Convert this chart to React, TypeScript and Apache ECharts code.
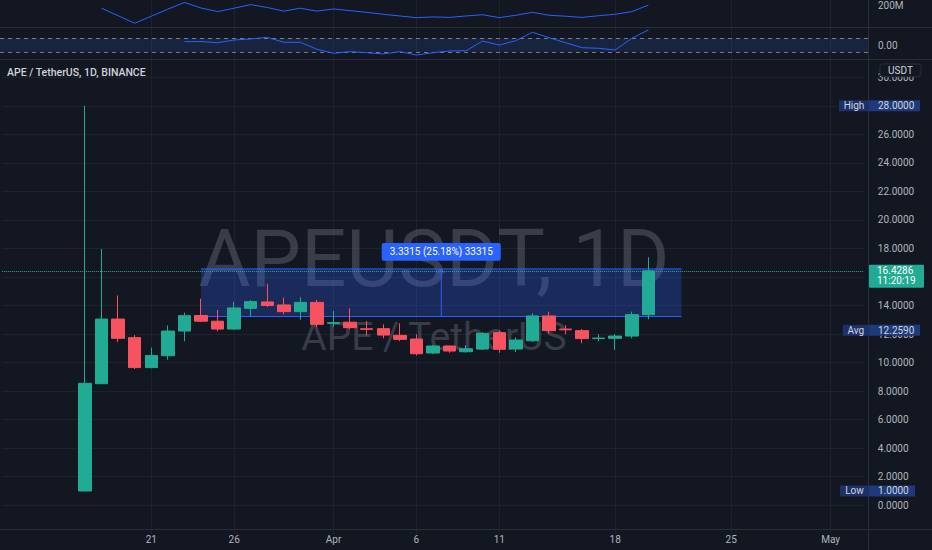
import React, { useEffect, useRef } from "react";
import * as echarts from "echarts";

const FONT = "Roboto, 'Noto Sans', sans-serif";
const BG = "#131722";
const UP = "#22ab94";
const DOWN = "#f7525f";
const BLUE = "#2962ff";
const GRID_C = "#1e222d";
const SEP_C = "#2a2e39";
const TEXT = "#b2b5be";

// axis categories (daily)
const AXIS_START = "2022-03-12";
const AXIS_END = "2022-05-03";
function dayList(start: string, end: string): string[] {
  const out: string[] = [];
  let t = Date.parse(start + "T00:00:00Z");
  const e = Date.parse(end + "T00:00:00Z");
  while (t <= e) {
    out.push(new Date(t).toISOString().slice(0, 10));
    t += 86400000;
  }
  return out;
}
const DATES = dayList(AXIS_START, AXIS_END);

const X_LABELS: Record<string, string> = {
  "2022-03-21": "21",
  "2022-03-26": "26",
  "2022-04-01": "Apr",
  "2022-04-06": "6",
  "2022-04-11": "11",
  "2022-04-18": "18",
  "2022-04-25": "25",
  "2022-05-01": "May",
};

// APE / USDT daily candles
const CANDLE_DATES = dayList("2022-03-17", "2022-04-20");
const OPEN = [1.0, 8.52, 13.05, 11.75, 9.65, 10.48, 12.21, 13.3, 12.9, 12.35, 13.8, 14.25, 14.04, 13.57, 14.22,
  12.75, 12.83, 12.37, 12.38, 11.91, 11.65, 10.67, 11.16, 10.76, 10.95, 12.1, 10.95, 11.53, 13.27, 12.35, 12.24, 11.68, 11.7, 11.86, 13.36];
const CLOSE = [8.55, 13.05, 11.7, 9.65, 10.5, 12.21, 13.29, 12.9, 12.35, 13.83, 14.27, 14.0, 13.57, 14.22, 12.68,
  12.8, 12.45, 12.33, 11.93, 11.63, 10.62, 11.16, 10.81, 10.97, 12.05, 10.93, 11.58, 13.27, 12.24, 12.3, 11.68, 11.72, 11.86, 13.36, 16.4286];
const LOW = [1.0, 8.5, 11.45, 9.55, 9.6, 10.2, 11.5, 12.85, 12.2, 12.3, 13.2, 13.9, 13.38, 13.0, 12.5,
  12.5, 12.35, 11.9, 11.7, 11.5, 10.5, 10.6, 10.69, 10.7, 10.88, 10.69, 10.74, 11.45, 12.05, 12.0, 11.35, 11.5, 10.88, 11.7, 13.03];
const HIGH = [28.0, 17.96, 14.7, 11.93, 11.05, 12.6, 13.5, 14.48, 13.68, 14.25, 14.39, 15.53, 14.55, 14.58, 14.39,
  13.62, 13.8, 12.92, 12.68, 12.75, 11.98, 11.23, 11.2, 11.23, 12.14, 12.24, 11.77, 13.45, 13.57, 12.63, 12.35, 11.98, 12.0, 13.57, 17.38];

// top pane 1 (millions)
const VOL_DATES = dayList("2022-03-18", "2022-04-20");
const VOL_MA = [190, 159, 128, 157, 186, 214, 191, 176, 190, 205, 193, 178, 190, 178,
  187, 180, 173, 165, 158, 151, 154, 152, 158, 163, 151, 161, 173, 161, 157, 152, 159, 165, 176, 203];

// top pane 2 oscillator
const OSC_DATES = dayList("2022-03-23", "2022-04-20");
const OSC = [0.51, 0.54, 0.37, 0.76, 0.9, 1.14, 0.43, 0.43, -0.57,
  -1.14, -0.91, -1.06, -1.24, -0.91, -1.39, -1.06, -0.81, -0.77, 0.61, 0.04, 0.66, 1.86, 1.09, 0.37, -0.34, -0.43, -0.67, 1.0, 2.19];
const OSC_BAND = [-1, 1];

const PRICE_HIGH = 28.0;
const PRICE_AVG = 12.259;
const PRICE_LOW = 1.0;
const LAST = 16.4286;
const COUNTDOWN = "11:20:19";
const MEASURE_FROM = "2022-03-24";
const MEASURE_TO = "2022-04-22";
const MEASURE_LOW = 13.2305;
const MEASURE_HIGH = 16.562;
const MEASURE_LABEL = "3.3315 (25.18%) 33315";
const TITLE = "APE / TetherUS, 1D, BINANCE";
const WM1 = "APEUSDT, 1D";
const WM2 = "APE / TetherUS";

const showDate = (_i: number, v: string) => !!X_LABELS[v];

export default function App() {
  const ref = useRef<HTMLDivElement>(null);
  useEffect(() => {
    if (!ref.current) return;
    const chart = echarts.init(ref.current, null, { renderer: "svg" });
    const candleData = CANDLE_DATES.map((d, i) => [d, OPEN[i], CLOSE[i], LOW[i], HIGH[i]]);
    const volData = VOL_DATES.map((d, i) => [d, VOL_MA[i]]);
    const oscData = OSC_DATES.map((d, i) => [d, OSC[i]]);
    const gl = 2.15;
    const gr = 68.2;
    const xBase = (gi: number, labels: boolean) => ({
      type: "category",
      gridIndex: gi,
      data: DATES,
      boundaryGap: false,
      axisLine: { show: false },
      axisTick: { show: false },
      axisLabel: labels
        ? { show: true, interval: showDate, formatter: (v: string) => X_LABELS[v] || "", color: TEXT, fontSize: 10, fontFamily: FONT, margin: 1 }
        : { show: false },
      splitLine: { show: true, interval: showDate, lineStyle: { color: GRID_C, width: 1 } },
    });
    const option: any = {
      animation: false,
      backgroundColor: BG,
      grid: [
        { left: gl, right: gr, top: 48.7, height: 485.1 },
        { left: gl, right: gr, top: 0, height: 30 },
        { left: gl, right: gr, top: 28, height: 30 },
      ],
      xAxis: [xBase(0, true), xBase(1, false), xBase(2, false)],
      yAxis: [
        {
          type: "value", gridIndex: 0, position: "right", min: -2, max: 32, interval: 2,
          axisLine: { show: false }, axisTick: { show: false },
          axisLabel: {
            color: TEXT, fontSize: 10, fontFamily: FONT, margin: 14, showMinLabel: false, showMaxLabel: false,
            formatter: (v: number) => (v < 0 || v > 30 ? "" : v.toFixed(4)),
          },
          splitLine: { show: true, showMinLine: false, showMaxLine: false, lineStyle: { color: GRID_C, width: 1 } },
        },
        { type: "value", gridIndex: 1, min: 100, max: 224, axisLabel: { show: false }, axisLine: { show: false }, axisTick: { show: false }, splitLine: { show: false } },
        { type: "value", gridIndex: 2, min: -1.814, max: 2.471, axisLabel: { show: false }, axisLine: { show: false }, axisTick: { show: false }, splitLine: { show: false } },
      ],
      series: [
        {
          type: "candlestick",
          xAxisIndex: 0, yAxisIndex: 0,
          data: candleData,
          encode: { x: 0, y: [1, 2, 3, 4] },
          barWidth: 13,
          itemStyle: { color: UP, color0: DOWN, borderColor: UP, borderColor0: DOWN, borderWidth: 1 },
          markLine: {
            silent: true, symbol: "none", label: { show: false },
            lineStyle: { color: UP, type: "dotted", width: 1 },
            data: [{ yAxis: LAST }],
          },
          z: 3,
        },
        {
          type: "line", xAxisIndex: 1, yAxisIndex: 1, data: volData, symbol: "none",
          lineStyle: { color: BLUE, width: 1 }, itemStyle: { color: BLUE }, z: 5,
        },
        {
          type: "line", xAxisIndex: 2, yAxisIndex: 2, data: oscData, symbol: "none",
          lineStyle: { color: BLUE, width: 1 }, itemStyle: { color: BLUE }, z: 5,
        },
      ],
    };
    chart.setOption(option);

    const P = (gi: number, d: string, v: number) =>
      chart.convertToPixel({ xAxisIndex: gi, yAxisIndex: gi } as any, [DATES.indexOf(d), v]) as number[];
    const yP = (v: number) => P(0, DATES[0], v)[1];

    const txt = (text: string, x: number, y: number, size: number, fill: string, align = "left", weight: any = "normal", z = 60) => ({
      type: "text", z, silent: true,
      style: { text, x, y, fill, font: `${weight} ${size}px ${FONT}`, textAlign: align, align, textVerticalAlign: "middle", verticalAlign: "middle" },
    });
    const rect = (x: number, y: number, w: number, h: number, fill: string, z = 55, r = 0, stroke?: string) => ({
      type: "rect", z, silent: true,
      shape: { x, y, width: w, height: h, r },
      style: stroke ? { fill, stroke, lineWidth: 1 } : { fill },
    });
    const line = (x1: number, y1: number, x2: number, y2: number, stroke: string, z = 55, dash?: number[]) => ({
      type: "line", z, silent: true,
      shape: { x1, y1, x2, y2 },
      style: dash ? { stroke, lineWidth: 1, lineDash: dash } : { stroke, lineWidth: 1 },
    });

    const tag = (name: string, value: number, nameX: number, valW: number) => {
      const y = yP(value);
      return [
        rect(nameX, y - 5.5, 869 - nameX, 11, "#1c3168"),
        rect(869, y - 5.5, valW, 11, "#1e3a7a"),
        txt(name, (nameX + 869) / 2, y, 10, "#d1d4dc", "center"),
        txt(value.toFixed(4), 878, y, 10, "#d1d4dc"),
      ];
    };

    const mx1 = P(0, MEASURE_FROM, MEASURE_HIGH)[0];
    const mx2 = P(0, MEASURE_TO, MEASURE_HIGH)[0];
    const myT = yP(MEASURE_HIGH);
    const myB = yP(MEASURE_LOW);
    const mxm = (mx1 + mx2) / 2;
    const yLast = yP(LAST);
    const yVol = P(1, DATES[0], 200)[1];
    const yOsc = P(2, DATES[0], 0)[1];
    const yBandTop = P(2, DATES[0], OSC_BAND[1])[1];
    const yBandBot = P(2, DATES[0], OSC_BAND[0])[1];

    const graphic: any[] = [
      // watermarks
      txt(WM1, 434, 259, 80, "rgba(120,124,138,0.38)", "center", "normal", 1),
      txt(WM2, 434, 337, 39, "rgba(120,124,138,0.38)", "center", "normal", 1),
      // oscillator band
      rect(0, yBandTop, 868, yBandBot - yBandTop, "rgba(56,110,220,0.15)", 1),
      line(0, Math.round(yBandTop) + 0.5, 868, Math.round(yBandTop) + 0.5, "#787b86", 2, [4, 4]),
      line(0, Math.round(yBandBot) + 0.5, 868, Math.round(yBandBot) + 0.5, "#787b86", 2, [4, 4]),
      // measurement
      rect(mx1, myT, mx2 - mx1, myB - myT, "rgba(41,98,255,0.26)", 2),
      line(mx1, myT, mx2, myT, BLUE, 2),
      line(mx1, myB, mx2, myB, BLUE, 2),
      line(mxm, myT, mxm, myB, BLUE, 2),
      { type: "polyline", z: 2, silent: true, shape: { points: [[mxm - 3, myT + 4], [mxm, myT], [mxm + 3, myT + 4]] }, style: { stroke: BLUE, fill: "none", lineWidth: 1 } },
      rect(mxm - 59.5, myT - 26, 119, 17.7, BLUE, 56, 2),
      txt(MEASURE_LABEL, mxm, myT - 17, 10, "#ffffff", "center", "normal", 57),
      // separators
      line(0, 27.5, 932, 27.5, SEP_C, 40),
      line(0, 59.5, 932, 59.5, SEP_C, 40),
      line(0, 529.5, 932, 529.5, SEP_C, 40),
      line(868.5, 0, 868.5, 550, SEP_C, 40),
      // pane labels
      txt("200M", 878, yVol, 10, TEXT),
      txt("0.00", 878, yOsc, 10, TEXT),
      // title
      txt(TITLE, 7, 72, 10.5, "#d1d4dc", "left", 500),
      // USDT button
      rect(880, 64, 41, 12.7, BG, 58, 3, SEP_C),
      txt("USDT", 900.5, 70.5, 10, "#d1d4dc", "center", "normal", 59),
      // tags
      ...tag("High", PRICE_HIGH, 839, 51),
      ...tag("Avg", PRICE_AVG, 842.7, 51),
      ...tag("Low", PRICE_LOW, 840, 46),
      // last price
      rect(869, yLast - 6.2, 55, 23, UP, 58, 1),
      txt(LAST.toFixed(4), 877, yLast, 10, "#ffffff", "left", "normal", 59),
      txt(COUNTDOWN, 877, yLast + 10, 10, "#ffffff", "left", "normal", 59),
    ];
    chart.setOption({ graphic });

    return () => chart.dispose();
  }, []);

  return (
    <div
      ref={ref}
      style={{ position: "fixed", left: 0, top: 0, width: 932, height: 550, background: BG }}
    />
  );
}
